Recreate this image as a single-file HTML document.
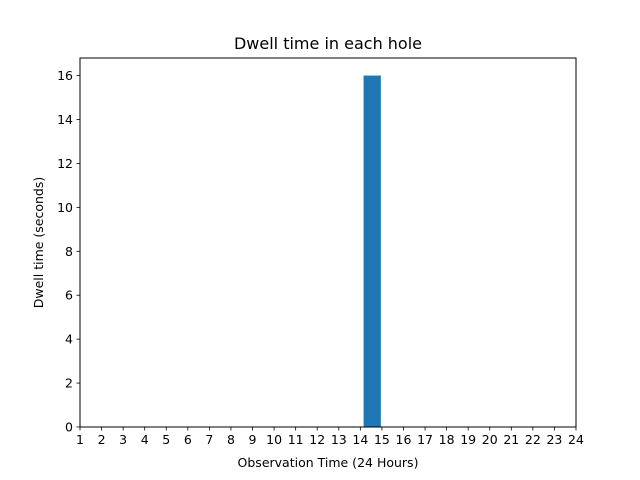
<!DOCTYPE html>
<html><head><meta charset="utf-8"><style>
body{margin:0;background:#fff;}
svg{display:block;font-family:"DejaVu Sans","Liberation Sans",sans-serif;}
</style></head><body>
<svg id="chart" width="640" height="480" viewBox="0 0 640 480" xmlns="http://www.w3.org/2000/svg">
<rect width="640" height="480" fill="#fff"/>
<text x="328" y="49" font-size="16" text-anchor="middle">Dwell time in each hole</text>
<text x="328" y="467" font-size="12.5" text-anchor="middle">Observation Time (24 Hours)</text>
<text transform="translate(43,242.5) rotate(-90)" font-size="12.5" text-anchor="middle">Dwell time (seconds)</text>
<g id="bars"></g>
<g id="xticks"></g>
<g id="yticks"></g>
<rect x="80" y="58" width="496" height="369" fill="none" stroke="#000" stroke-width="1"/>
</svg>
<script>
const barStarts = [14.15];
const barHeights = [16];
const barWidths = [0.8];
const xTickLabels = [1,2,3,4,5,6,7,8,9,10,11,12,13,14,15,16,17,18,19,20,21,22,23,24];
const yTickLabels = [0,2,4,6,8,10,12,14,16];
const xMin = 1, xMax = 24, yMin = 0, yMax = 16.8;
const L = 80, R = 576, T = 58, B = 427;
const NS = "http://www.w3.org/2000/svg";
function xs(v){return L + (v - xMin) / (xMax - xMin) * (R - L);}
function ys(v){return B - (v - yMin) / (yMax - yMin) * (B - T);}
function mk(tag, attrs, parent){const e=document.createElementNS(NS,tag);for(const k in attrs)e.setAttribute(k,attrs[k]);parent.appendChild(e);return e;}
const bars = document.getElementById('bars');
barStarts.forEach((s,i)=>{
  const r = mk('rect',{x:xs(s),y:ys(barHeights[i]),width:xs(s+barWidths[i])-xs(s),height:ys(0)-ys(barHeights[i]),fill:'#1f77b4'},bars);
  
  
});
const xg = document.getElementById('xticks');
xTickLabels.forEach(v=>{
  const x = xs(v);
  const t = mk('line',{x1:x,x2:x,y1:B,y2:B+3.5,stroke:'#000','stroke-width':0.8},xg);
  
  
  const l = mk('text',{x:x,y:B+17,'font-size':12.5,'text-anchor':'middle'},xg);
  l.textContent = v;
  
  
});
const yg = document.getElementById('yticks');
yTickLabels.forEach(v=>{
  const y = ys(v);
  const t = mk('line',{x1:L-3.5,x2:L,y1:y,y2:y,stroke:'#000','stroke-width':0.8},yg);
  
  
  const l = mk('text',{x:L-7,y:y+4.5,'font-size':12.5,'text-anchor':'end'},yg);
  l.textContent = v;
  
  
});
</script>
</body></html>
